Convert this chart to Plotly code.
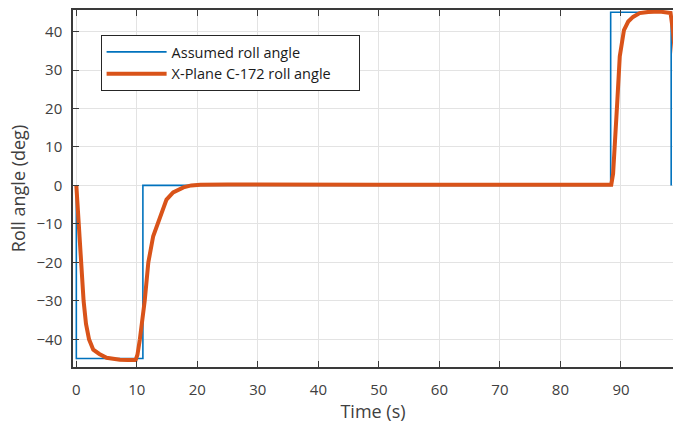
import plotly.graph_objects as go

# Commanded (assumed) roll angle: step profile
t_assumed = [0, 0, 11, 11, 88.3, 88.3, 98.3, 98.3]
roll_assumed = [0, -45, -45, 0, 0, 45, 45, 0]

# Simulated roll response of the C-172 in X-Plane
t_xplane = [0, 0.3, 0.7, 1.2, 1.6, 2.1, 2.8, 3.8, 5.0, 6.0, 7.2, 8.5, 9.8,
            10.1, 10.5, 11.3, 11.9, 12.7, 13.5, 14.2, 14.9, 16.0, 17.7, 19.0, 20.5,
            25, 30, 40, 50, 60, 70, 80, 88.4,
            88.7, 89.0, 89.4, 89.8, 90.2, 90.5, 91.2, 92.0, 93.1, 94.5, 96.4,
            97.5, 98.2, 98.6, 99.0]
roll_xplane = [0, -7, -19, -30, -36, -40, -42.7, -43.8, -44.8, -45.1, -45.3, -45.4, -45.4,
               -44, -40, -30, -20, -13.2, -9.8, -6.5, -3.7, -1.8, -0.5, 0, 0.2,
               0.25, 0.2, 0.2, 0.2, 0.2, 0.2, 0.2, 0.2,
               3, 10, 22, 33.5, 38.5, 40.4, 42.6, 43.8, 44.8, 45.1, 45.2,
               45.1, 44.8, 40, 33]

x_ticks = [0, 10, 20, 30, 40, 50, 60, 70, 80, 90]
y_ticks = [-40, -30, -20, -10, 0, 10, 20, 30, 40]

FONT = "Open Sans"
TXT = "#404040"
AX = "#3a3a3a"
GRID = "#e3e3e3"
PAD = "\u00a0" * 6  # extra room on the right inside the legend box

fig = go.Figure()
fig.add_trace(go.Scatter(
    x=t_assumed, y=roll_assumed, mode="lines", name="Assumed roll angle",
    line=dict(color="#0072BD", width=1.6),
))
fig.add_trace(go.Scatter(
    x=t_xplane, y=roll_xplane, mode="lines", name="X-Plane C-172 roll angle" + PAD,
    line=dict(color="#D95319", width=4),
))

axis_common = dict(
    showgrid=True, gridcolor=GRID, gridwidth=1,
    showline=True, linecolor=AX, linewidth=1.5,
    ticks="inside", ticklen=6, tickwidth=1.2, tickcolor=AX,
    zeroline=False,
    tickfont=dict(family=FONT, size=15, color=TXT),
)

fig.update_xaxes(
    range=[-0.55, 98.6], tickvals=x_ticks, ticklabelstandoff=8, mirror="ticks",
    title=dict(text="Time (s)", font=dict(family=FONT, size=18, color=TXT), standoff=8),
    **axis_common,
)
fig.update_yaxes(
    range=[-47.2, 45.6], tickvals=y_ticks, ticklabelstandoff=6, mirror=False,
    title=dict(text="Roll angle (deg)", font=dict(family=FONT, size=18, color=TXT), standoff=6),
    **axis_common,
)

fig.update_layout(
    width=673, height=427,
    margin=dict(l=73, r=0, t=10, b=60),
    paper_bgcolor="white", plot_bgcolor="white",
    showlegend=True,
    legend=dict(
        x=0.046, y=0.93, xanchor="left", yanchor="top",
        bgcolor="white", bordercolor="#262626", borderwidth=1,
        font=dict(family=FONT, size=14.5, color="#1a1a1a"),
        itemwidth=60, tracegroupgap=0,
    ),
)

fig.write_html("out.html")
